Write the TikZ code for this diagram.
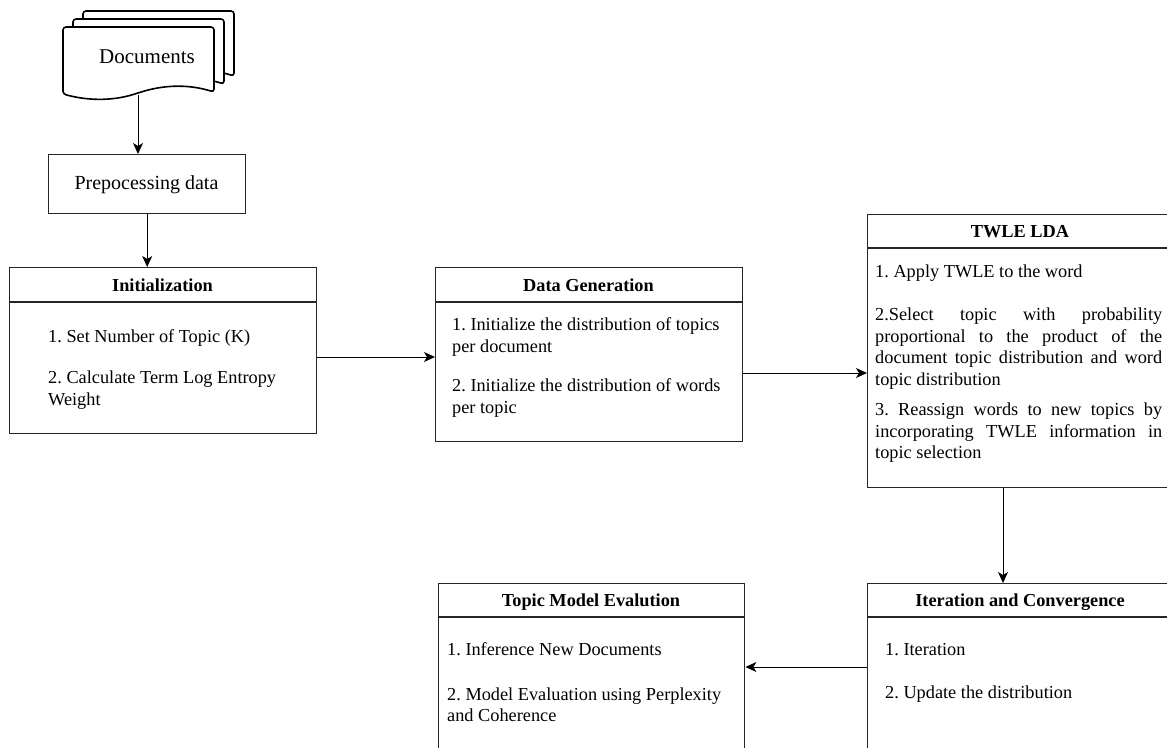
\documentclass[tikz,border=0pt]{standalone}
\usepackage{fontspec}
\setmainfont{Liberation Serif}
\usetikzlibrary{arrows.meta}
\frenchspacing
\begin{document}
\frenchspacing
\begin{tikzpicture}[x=1pt,y=-1pt,
  box/.style={draw=black!85, line width=1.4pt, fill=white, inner sep=0pt, anchor=north west},
  hline/.style={draw=black!85, line width=1.4pt},
  arr/.style={draw=black, line width=1pt, -{Stealth[length=11pt,width=10pt,inset=3pt]}},
  page/.style={draw=black, line width=1.6pt, fill=white, rounded corners=3pt},
  ttl/.style={font=\bfseries\fontsize{18.3}{21}\selectfont, inner sep=0pt, anchor=center},
  ln/.style={font=\fontsize{18.3}{21}\selectfont, inner sep=0pt, anchor=base west}
]
\useasboundingbox (0,0) rectangle (1167,747);
\clip (0,0) rectangle (1167,747);
\fill[white] (0,0) rectangle (1167,747);

% Documents (stack of pages)
\foreach \dx/\dy in {20/-16, 10/-8, 0/0}{
  \begin{scope}[shift={(\dx,\dy)}]
  \path[page] (63,94) -- (63,27) -- (214,27) -- (214,92)
     .. controls (185,83) and (160,86) .. (138,93)
     .. controls (110,102) and (85,100) .. (63,94) -- cycle;
  \end{scope}
}
\node[font=\fontsize{21}{24}\selectfont, inner sep=0pt] (doc) at (147,57) {Documents};
\coordinate (docbot) at (138,95);

% Preprocessing
\node[box, minimum width=197pt, minimum height=59pt] (prep) at (48,154) {};
\node[font=\fontsize{20}{23}\selectfont, inner sep=0pt] (preptxt) at (146.5,185) {Prepocessing data};

% Initialization
\node[box, minimum width=307pt, minimum height=166pt] (init) at (9,267) {};
\draw[hline] (init.west |- 0,302) -- (init.east |- 0,302);
\node[ttl] (initt) at (162.5,285) {Initialization};
\node[ln] (i1) at (48,342) {1. Set Number of Topic (K)};
\node[ln] (i2) at (48,383) {2. Calculate Term Log Entropy};
\node[ln] (i3) at (48,405) {Weight};

% Data Generation
\node[box, minimum width=307pt, minimum height=174pt] (dg) at (435,267) {};
\draw[hline] (dg.west |- 0,302) -- (dg.east |- 0,302);
\node[ttl] (dgt) at (588.5,285) {Data Generation};
\node[ln] (d1) at (452,330) {1. Initialize the distribution of topics};
\node[ln] (d2) at (452,352) {per document};
\node[ln] (d3) at (452,391) {2. Initialize the distribution of words};
\node[ln] (d4) at (452,413) {per topic};

% TWLE LDA
\node[box, minimum width=306pt, minimum height=273pt] (twle) at (867,214) {};
\draw[hline] (twle.west |- 0,248) -- (twle.east |- 0,248);
\node[ttl] (twlet) at (1020,232) {TWLE LDA};
\node[ln] (w1) at (875,277) {1. Apply TWLE to the word};
\node[ln] (w2) at (875,320) {\makebox[287pt][s]{2.Select topic with probability}};
\node[ln] (w3) at (875,342) {\makebox[287pt][s]{proportional to the product of the}};
\node[ln] (w4) at (875,363) {\makebox[287pt][s]{document topic distribution and word}};
\node[ln] (w5) at (875,385) {topic distribution};
\node[ln] (w6) at (875,415) {\makebox[287pt][s]{3. Reassign words to new topics by}};
\node[ln] (w7) at (875,437) {\makebox[287pt][s]{incorporating TWLE information in}};
\node[ln] (w8) at (875,458) {topic selection};

% Iteration and Convergence
\node[box, minimum width=306pt, minimum height=220pt] (iter) at (867,583) {};
\draw[hline] (iter.west |- 0,617) -- (iter.east |- 0,617);
\node[ttl] (itert) at (1020,602) {Iteration and Convergence};
\node[ln] (c1) at (885,655) {1. Iteration};
\node[ln] (c2) at (885,698) {2. Update the distribution};

% Topic Model Evaluation
\node[box, minimum width=306pt, minimum height=220pt] (tme) at (438,583) {};
\draw[hline] (tme.west |- 0,617) -- (tme.east |- 0,617);
\node[ttl] (tmet) at (591,602) {Topic Model Evalution};
\node[ln] (e1) at (447,655) {1. Inference New Documents};
\node[ln] (e2) at (447,700) {2. Model Evaluation using Perplexity};
\node[ln] (e3) at (447,721) {and Coherence};

% Connectors
\draw[arr] (docbot) -- (docbot |- prep.north);
\draw[arr] (prep.south) -- (prep.south |- init.north);
\draw[arr] (init.east |- 0,357) -- (dg.west |- 0,357);
\draw[arr] (dg.east |- 0,373) -- (twle.west |- 0,373);
\draw[arr] (twle.south -| 1003,0) -- (iter.north -| 1003,0);
\draw[arr] (iter.west |- 0,667) -- (tme.east |- 0,667);
\end{tikzpicture}
\end{document}
